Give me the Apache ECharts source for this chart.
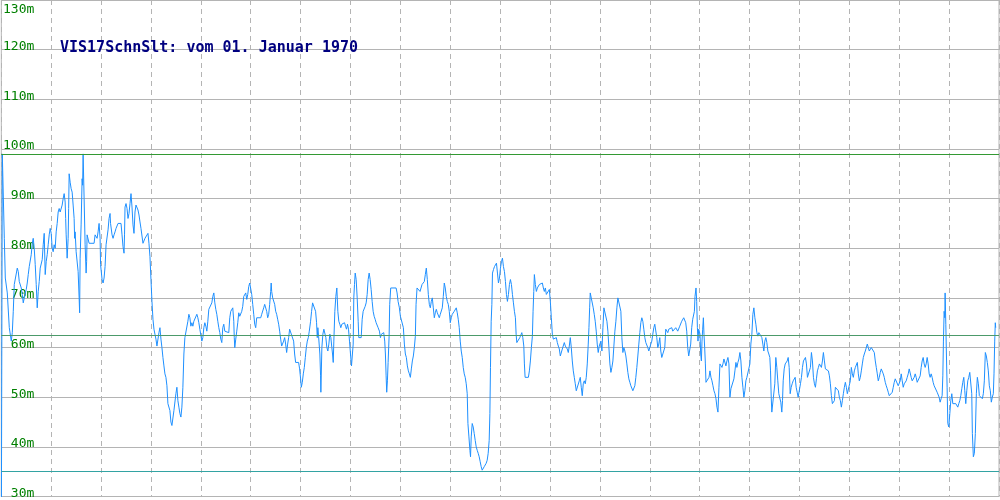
<!DOCTYPE html>
<html>
<head>
<meta charset="utf-8">
<script src="https://cdn.jsdelivr.net/npm/echarts@6/dist/echarts.min.js"></script>
<style>html,body{margin:0;padding:0;background:#fff}#c{width:1000px;height:500px}</style>
</head>
<body>
<div id="c"></div>
<script>
var titleText = 'VIS17SchnSlt: vom 01. Januar 1970';
var yTicks = [30, 40, 50, 60, 70, 80, 90, 100, 110, 120, 130];
// reference lines: max, mean, min
var refLines = [98.9, 62.5, 35.0];
var refColors = ['#339933', '#4c9a6a', '#33a3a3'];

// [day, metres]
var seg1 = [[0,20],[1,99],[3,82],[4,74],[6,71],[8,64],[10,61.3],[11,63],[12,67.3],[13,72.7],[15,73],[16,76],[17,75.3],[18,73.3],[20,72],[21,70.7],[22,69],[23,70],[25,71.7],[26,73],[27,74.7],[28,76.3],[30,78.7],[31,81],[32,82],[33,80],[34,76.7],[35,72.7],[36,68],[37,71.3],[38,73.3],[39,76],[41,77.7],[42,80.7],[43,83],[44,74.7],[45,77.3],[46,78.7],[47,80.7],[48,82.7],[49,84],[50,83],[51,80],[52,79.3],[53,80.7],[54,80],[55,83.3],[56,85],[57,87.3],[58,88],[59,87.3],[61,88.7],[62,90],[63,91],[64,89.3],[64.5,86],[65,82.7],[66,78],[67,82],[67.5,88],[68,95],[69,93.3],[70,92],[71,91.3],[72,88.7],[73,86],[73.5,82],[74,83.3],[75,79.3],[77,75.3],[78,70],[78.5,67],[79,78],[80,84.7],[81,94],[81.5,92.7],[82,99],[83,90],[84,80.7],[85,75],[85.5,77.3],[86,82.7],[87,83],[88,81],[90,81],[93,81],[94,82.7],[96,82],[97,83.3],[98,85],[99,82],[99.5,76.7],[101,73.7],[102,73],[103,74],[104,76.3],[105,80.7],[107,83.7],[108,86],[109,87],[109.5,85],[111,82.7],[112,82],[113,82.7],[114,83.3],[115,84],[117,85],[120,85],[121,82.7],[122,80.3],[123,79],[123.5,82.7],[124,88.3],[125,89],[126,88],[127,86],[128,87],[129,89],[130,91],[131,88.3],[132,84.7],[133,83],[134,87.3],[135,88.7],[136,89],[137,87.7],[138,86.7],[139,85.3],[140,84],[142,81],[143,81],[144,82],[146,82.3],[147,83],[148,81],[149,78.3],[150,73.7],[151,69.3],[152,65.7],[153,63.7],[154,62.7],[155,61.7],[156,60.3],[157,60],[158,63],[159,64],[160,61.7],[161,60],[162,58],[163,56.3],[164,54.7],[165,54],[166,52.3],[167,48.7],[169,47.3],[170,45],[171,44.3],[172,44],[173,47.3],[175,50.7],[176,52],[177,49.3],[178,48],[179,46.7],[180,46],[181,48],[182,52],[183,58.7],[184,62],[185,62.3],[187,65.3],[188,66.7],[189,66],[190,64.3],[191,65],[192,64.3],[193,65.3],[195,65],[196,66.7],[197,66],[198,65],[199,63.7]];

var seg2 = [[200,63.3],[201,61.3],[202,62],[203,64],[204,65],[205,64.3],[206,63.3],[207,65.3],[208,67.7],[209,68],[211,69],[212,70.3],[213,71],[214,69],[215,67.7],[216,66.7],[217,65.3],[218,64],[219,63],[220,61.7],[221,61],[222,64],[223,64.7],[224,63.3],[225,63],[228,63],[229,66],[230,67.3],[232,68],[233,65.3],[233.5,62],[234,60],[235,61.7],[236,63.3],[237,65],[238,67],[239,66.3],[240,66],[241,67.3],[242,68.3],[243,70.3],[245,71],[246,69.7],[247,70.7],[248,72.3],[249,73],[250,72.7],[251,70.7],[252,68.7],[253,66.7],[254,64.7],[255,64],[256,66],[258,66],[260,66],[261,66.7],[263,68],[264,68.7],[265,69],[266,67.3],[267,66],[268,66.7],[269,68.7],[270,71.3],[270.5,73],[271,71.3],[272,70],[273,69.7],[274,68.7],[275,67.3],[276,66.7],[277,65.7],[278,64.7],[279,63.3],[280,61.7],[281,60.3],[282,60],[283,61.3],[284,62],[285,60.7],[286,59],[287,60.7],[288,62],[289,63.7],[291,64],[293,61.3],[294,58.7],[295,57],[298,57],[299,55.7],[300,53.7],[300.7,52],[301.7,53],[302.7,54.7],[303.7,56],[304.7,58],[305.7,60],[306.7,61.3],[307.7,62],[308.7,63.3],[310,65.3],[311,67.3],[312,69],[314,69],[315,67.3],[316,65],[316.7,62],[317.3,64],[318,62.3],[318.7,62.7],[319.3,58.7],[320,54.3],[320.3,51],[321.3,60],[322.3,62.7],[323.3,63.7],[324.3,64],[325.3,62],[326.3,60],[327.3,59.3],[328.3,60.7],[329.3,62.7],[330.3,62],[331.3,60],[332,58.7],[332.7,57],[333.3,61.3],[334.3,67.3],[335.3,70.3],[336.3,72],[337.3,67.3],[338.3,65.3],[339.3,64.7],[340.3,64],[341.3,64.7],[342.7,65],[344,65],[345,64.3],[346,63.7],[347,64.7],[348,63.7],[349,61.3],[350,58.7],[351,56.3],[352,56],[352.7,60.7],[353.3,70],[354,72.7],[354.7,75],[355.7,73.7],[356.7,70],[357.7,65.3],[358.3,62],[360.7,62],[361.7,65.7],[362.7,67.3],[363.7,67.7],[364.7,68.3],[365.7,69],[366.7,70.7],[367.7,73.7],[368.7,75],[369.7,73.7],[370.7,71.7],[371.7,69.3],[372.7,67.3],[373.7,66.3],[374.7,65.7],[375.7,65],[376.7,64.7],[377.7,64],[379,63.3],[380,62],[381,62.7],[382,63],[383.3,63],[384.3,61.3],[385,58.7],[385.7,54.3],[386.3,51],[387,53.3],[387.7,57],[388.7,62.3],[389.3,68.7],[390.3,72],[395.7,72],[396.7,71],[397.7,69.3],[399,68]];

var seg3 = [[400,66.3],[402,66],[403,64],[404,60.7],[405,58.7],[406,58],[407,56.3],[408,55.3],[409,54.7],[410,54],[411,55.7],[412,57.3],[413,58.3],[414,60],[415,62.3],[415.7,68.7],[416.7,72],[418.7,72],[419.7,71.3],[420.7,71],[421.7,72.7],[422.7,73],[424,73.3],[425,74.7],[426,76],[427,73.7],[428,70.7],[429,68.7],[430,68],[431,69.3],[432,70],[433,68],[434,66],[435,67],[436,67.7],[437,67],[438,66.7],[439,66],[440,66.7],[441,67],[442,68],[443,70.3],[444,73],[445,72],[446,70.3],[447,69.3],[448,68.7],[449,67.3],[450,65],[451,66],[452,66.7],[453,67],[454,67.3],[455,67.7],[456,68],[457,67],[458,65.7],[459,64],[460,61.3],[461,59.3],[462,58],[463,56],[464,54.7],[465,54],[466,52.7],[467,50.7],[467.7,44.7],[468.7,42],[469.7,39.3],[470.3,38],[471,42],[472,44.7],[473,44],[474,42.7],[475,41.3],[476,40],[477,39.3],[478,38.7],[479,38],[480,37],[481,36],[482,35.3],[483,35.3],[484,36],[485,36],[486,36.7],[487,37.3],[488,38.7],[489,41.3],[489.7,46.7],[490.3,56],[491,65.3],[491.7,68.7],[492.3,75],[493.3,75.7],[494.3,76.3],[495.3,76.7],[496.3,77],[497.3,75],[498.3,73],[499.3,74],[500.3,76],[501.3,77.3],[502.3,78],[503.3,76.3],[504.3,75.3],[505.3,73.3],[506.3,70.7],[507.3,69.3],[508.3,70.7],[509.3,72.7],[510.3,73.7],[511.3,72.7],[512.3,70.7],[513.3,69],[514.3,67.3],[515.3,66],[516,62.7],[516.7,61],[518.7,61],[519.7,62],[520.7,62.3],[521.7,63],[522.7,62],[523.7,60.3],[524.3,56.7],[525,54],[528.3,54],[529.3,55.3],[530.3,57.3],[531.3,60],[532.3,62.3],[533,67.3],[533.7,71.3],[534.3,74.7],[535.3,72.7],[536.3,71.3],[537.3,72],[538.3,72.3],[539.3,72.7],[540.3,73],[541.3,72.7],[542.3,73],[543.3,72],[544.3,71.3],[545.3,72],[546.3,70.7],[547.3,70.3],[548.3,70.7],[549.3,71.7],[550.3,69.3],[551.3,66],[552.3,62.7],[553.3,61.7],[554.3,61.3],[555.3,61.7],[556.3,62],[557.3,61],[558.3,60.3],[559.3,59.7],[560.3,58.3],[561.3,58.7],[562.3,59.7],[563.3,60],[564.3,61],[565.3,60.3],[566.3,60],[567.3,59.7],[568.3,59],[569.3,60.3],[570.3,62],[571.3,60],[572.3,57.3],[573.3,55.3],[574.3,54],[575.3,52.7],[576.3,51.3],[577.3,51],[578.3,51.7],[579.3,53.3],[580.3,54],[581.3,52],[582.3,50.3],[583.3,52.7],[584.3,53.3],[585.3,52.7],[586.3,54],[587.3,56.7],[588.3,60.7],[589,64],[589.7,68],[590.3,71],[592.3,71],[593.3,68],[594.3,66.7],[595.3,65.3],[596.3,63.3],[597.3,60.7],[598.3,59],[599.3,60.3]];

var seg4 = [[600,60],[601,61.3],[602,59.3],[603,64],[604,68],[606,68],[607,65.3],[608,63.3],[609,60],[610,56.7],[611,55],[612,56],[613,57.3],[614,60.3],[615,63.3],[616,65.3],[617,68],[618,70],[620,70],[621,67.3],[622,62],[623,59],[624,60],[625,59.3],[626,58.3],[627,56.7],[628,55],[629,53.7],[630,53],[631,52.3],[632,52],[633,51.3],[634,51],[635,52.3],[636,54],[637,56],[638,58.3],[639,60.7],[640,63],[641,65],[642,66],[643,65.3],[644,63.7],[645,62],[646,61],[647,60.7],[648,60],[649,59.3],[650,59.7],[651,60.7],[652,61.3],[653,62.7],[654,64],[655,64.7],[656,65],[657,62],[658,60],[659,60.7],[660,62],[661,59.3],[662,58],[664,58],[665,60],[666,63.7],[667,63.3],[668,63],[669,63.7],[670,63.7],[671,64],[672,64],[673,63.3],[674,63.7],[675,63.3],[676,64],[677,63.7],[678,63.3],[679,63.7],[680,64.3],[681,64.7],[682,65.3],[683,65.7],[684,66],[685,65.7],[686,65],[687,63.3],[688,60],[689,58.3],[690,58],[691,60.7],[692,64],[693,65.7],[694,66],[694.7,67.3],[695.3,70.3],[696,70.7],[696.3,72],[697,69.3],[697.7,64],[698.3,61.3],[699,63.7],[699.7,63.3],[700.3,62.7],[701,58.7],[701.7,57.3],[702.3,61.3],[703,63.7],[703.7,66],[704.3,62.7],[705,60],[705.7,56.7],[706.3,53],[708.3,53],[709.3,54],[710.3,55.3],[711.3,54],[712.3,53.3],[713.3,52.3],[714.3,51.3],[715.3,50.7],[716.3,49.7],[717.3,48],[718.3,47],[719.3,52],[720.3,56.7],[721.3,56.7],[722.3,56],[723.3,56.7],[724.3,57.7],[725.3,57.3],[726.3,56.3],[727.3,57.3],[728.3,58],[729.3,56.7],[730.3,50],[731.3,51.7],[732.3,52],[733.3,52],[734.3,53.7],[735.3,55.3],[736.3,57],[737.3,56],[738.3,57],[739.3,57.7],[740.3,59],[741.3,57.3],[742.3,54],[743.3,52],[744.3,50],[745.3,51.3],[746.3,53.3],[747.3,54],[749.3,54],[750.3,56.7],[751.3,60.7],[752.3,62.7],[753.3,66.7],[754.3,68],[755.3,66],[756.3,64.7],[757.3,63],[758.3,62.3],[759.3,63],[760.3,62.7],[761.3,63],[762.3,62],[763.3,60.7],[764.3,59.3],[765.3,61.3],[766.3,62],[767.3,61],[768.3,59.3],[769.3,58.7],[770.3,58],[771,55.3],[771.7,50],[772.3,47],[774.3,47],[775.3,52.7],[776.3,58],[777.3,56],[778.3,53.3],[779.3,50.7],[780.3,50.3],[781.3,49],[782.3,47],[783,49.3],[783.7,53.3],[784.7,55.7],[785.7,56.7],[786.7,57],[787.7,57.3],[788.7,58],[789.7,56],[790.7,50.7],[791.7,52],[792.7,52.7],[793.7,53.3],[794.7,53.3],[795.7,54],[796.7,52],[797.7,51],[798.7,50],[799.7,50]];

var seg5 = [[800,50],[801,52.7],[802,54],[803,56],[804,57.3],[805,57.7],[806,58],[807,56.7],[808,54],[810,54],[811,56],[812,59],[813,57.3],[814,54],[815,52.7],[816,52],[817,53.7],[818,55.3],[819,56],[820,56.7],[821,56.3],[822,56],[823,57.3],[824,59],[825,57.3],[826,55.7],[827,55.7],[828,56],[829,55.3],[830,54.3],[831,52.7],[832,50.3],[833,48.7],[834,48.3],[835,49.3],[836,52],[838,52],[839,51.3],[840,50],[841,49.3],[842,48],[843,49.3],[844,50.7],[845,52],[846,53],[847,52],[848,50.7],[849,50.3],[850,50.7],[851,53.3],[852,56],[853,54.7],[854,54],[855,55.3],[856,56],[857,56.3],[858,57],[859,54.7],[860,53.3],[861,54],[862,55.3],[863,56.7],[864,58],[865,58.7],[866,59.3],[867,59.7],[868,60.7],[869,60],[870,59.3],[871,59.7],[872,60],[873,59.7],[874,60],[875,59],[876,57.3],[877,56],[878,54.7],[879,53.3],[880,54],[881,55],[882,55.7],[883,55.3],[884,54.7],[885,54],[886,53],[887,52.3],[888,51.7],[889,51],[890,50.3],[891,50],[892,50.3],[893,51],[894,52],[895,53],[896,53.7],[897,54],[898,53.3],[899,52.3],[900,52.7],[901,53.3],[902,54.7],[903,53.3],[904,52],[905,52.7],[906,53],[907,53.3],[908,54],[909,54.7],[910,55.7],[911,55.3],[912,54],[913,53.3],[914,53.7],[915,54],[916,54.7],[917,54],[918,53],[920,53],[921,54.3],[922,56],[923,57.3],[924,58],[925,56.7],[926,56],[927,56.7],[928,58],[929,56.7],[930,54.7],[931,54],[932,54.7],[933,54],[934,53],[935,52.3],[936,52.7],[937,52],[938,51],[939,50.7],[940,50],[941,49],[942,49.7],[943,50.3],[943.7,54.3],[944.3,61.3],[945,67.3],[945.7,66],[946,71],[946.7,64.7],[947.3,58.7],[948,52],[948.7,44.7],[949.7,44],[950.7,46.7],[951.7,49.3],[952.7,50.7],[953.7,48.7],[954.7,48.3],[955.7,49],[956.7,48.7],[957.7,48.3],[958.7,48],[959.7,48.7],[960.7,49.3],[961.7,50.3],[962.7,51.7],[963.7,53],[964.7,54],[965.7,51.3],[966.7,48.7],[967.7,51.3],[968.7,53.3],[969.7,54],[970.7,55],[971.7,55],[972.7,50.7],[973.3,42.7],[974.3,38],[975.3,38.7],[976.3,42.7],[977.3,50.7],[978.3,54],[979.3,52.7],[980.3,50.3],[981.3,50.7],[982.3,50.3],[983.3,49.7],[984.3,50.7],[985.3,53.3],[986.3,59],[987.3,58.3],[988.3,57],[989.3,55.3],[990.3,52.3],[991.3,51.3],[992.3,49],[993.3,50],[994.3,50.7],[995,54.7],[995.7,61.3],[996.3,65],[996.7,64]];

var readings = seg1.concat(seg2, seg3, seg4, seg5);

var chart = echarts.init(document.getElementById('c'), null, {renderer: 'canvas'});
var gridColor = '#b4b4b4';
var labelFont = 'DejaVu Sans Mono';
chart.setOption({
  animation: false,
  backgroundColor: '#ffffff',
  title: {
    text: titleText,
    left: 55,
    top: 36,
    textStyle: {fontFamily: labelFont, fontSize: 15, fontWeight: 'bold', color: '#000080'}
  },
  grid: {left: 0, right: 1, top: 0, bottom: 0, show: true, borderColor: gridColor, borderWidth: 1, backgroundColor: 'transparent'},
  xAxis: {
    type: 'value', min: 0, max: 1000, interval: 50,
    axisLine: {show: false}, axisTick: {show: false}, axisLabel: {show: false},
    splitLine: {show: true, lineStyle: {color: gridColor, type: [5, 4], width: 1}}
  },
  yAxis: [{
    type: 'value', min: yTicks[0], max: yTicks[yTicks.length - 1], interval: 10,
    axisLine: {show: false}, axisTick: {show: false},
    splitLine: {show: true, lineStyle: {color: gridColor, width: 1}},
    axisLabel: {
      inside: true, align: 'right', margin: 33, verticalAlign: 'bottom', lineHeight: 6,
      color: '#008000', fontFamily: labelFont, fontSize: 13,
      formatter: function (v) { return v === yTicks[yTicks.length - 1] ? '' : v + 'm'; }
    }
  }, {
    type: 'value', min: yTicks[0], max: yTicks[yTicks.length - 1], interval: 10, position: 'left',
    axisLine: {show: false}, axisTick: {show: false}, splitLine: {show: false},
    axisLabel: {
      inside: true, align: 'right', margin: 33, verticalAlign: 'top', lineHeight: 20,
      color: '#008000', fontFamily: labelFont, fontSize: 13,
      formatter: function (v) { return v === yTicks[yTicks.length - 1] ? v + 'm' : ''; }
    }
  }],
  series: [{
    type: 'line',
    data: readings,
    showSymbol: false,
    symbol: 'none',
    sampling: null,
    clip: true,
    lineStyle: {color: '#1e90ff', width: 1},
    z: 3,
    markLine: {
      silent: true, symbol: 'none', animation: false,
      label: {show: false},
      data: refLines.map(function (v, i) {
        return {yAxis: v, lineStyle: {color: refColors[i], width: 1, type: 'solid'}};
      })
    }
  }]
});
</script>
</body>
</html>
